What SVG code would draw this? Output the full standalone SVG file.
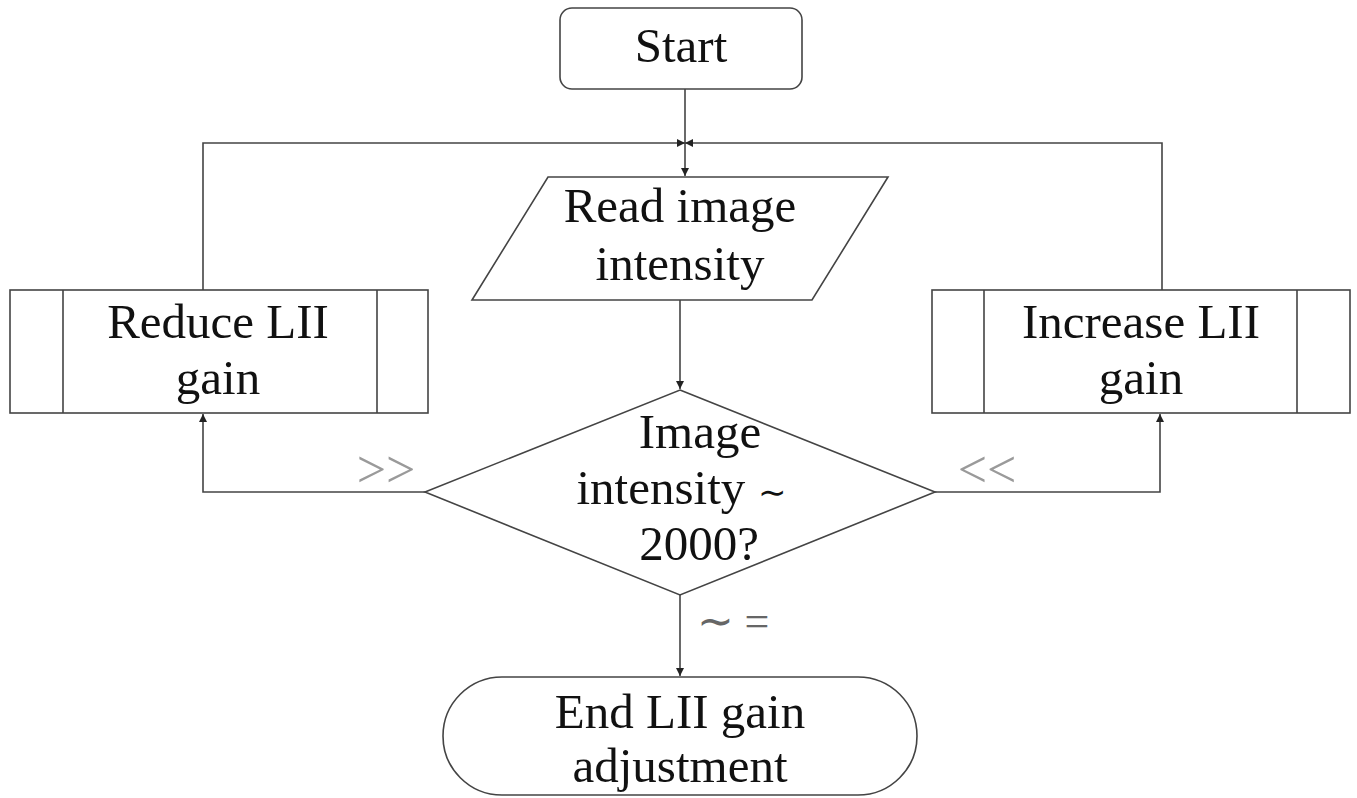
<svg xmlns="http://www.w3.org/2000/svg" width="1357" height="798" viewBox="0 0 1357 798">
<defs>
<style>
.s{fill:#fff;stroke:#444;stroke-width:1.6}
.c{fill:none;stroke:#444;stroke-width:1.6}
.t{font-family:"Liberation Serif","Times New Roman",serif;font-size:49px;fill:#111;text-anchor:middle}
.l{font-family:"Liberation Serif","Times New Roman",serif;font-size:52px;fill:#9a9a9a;text-anchor:middle}
.g{fill:#666;font-size:44px}
.sm{font-size:34px}
</style>
<marker id="a" viewBox="0 0 10 10" refX="10" refY="5" markerWidth="8" markerHeight="8" markerUnits="userSpaceOnUse" orient="auto"><path d="M0,0 L10,5 L0,10 z" fill="#222"/></marker>
</defs>
<rect width="1357" height="798" fill="#fff"/>
<g id="connectors">
<path class="c" d="M685,89 V176" marker-end="url(#a)"/>
<path class="c" d="M203,290 V143 H685" marker-end="url(#a)"/>
<path class="c" d="M1162,290 V143 H685" marker-end="url(#a)"/>
<path class="c" d="M680,300 V389" marker-end="url(#a)"/>
<path class="c" d="M425,492 H203 V414" marker-end="url(#a)"/>
<path class="c" d="M935,492 H1160 V414" marker-end="url(#a)"/>
<path class="c" d="M680,595 V676" marker-end="url(#a)"/>
<text class="l" x="386" y="487">&gt;&gt;</text>
<text class="l" x="987" y="487">&lt;&lt;</text>
<text class="l g" x="733" y="636">∼ =</text>
</g>
<g id="start">
<rect class="s" x="560" y="8" width="242" height="81" rx="12"/>
<text class="t" x="681" y="62">Start</text>
</g>
<g id="read">
<polygon class="s" points="548,177 888,177 812,300 472,300"/>
<text class="t" x="680" y="222">Read image</text>
<text class="t" x="680" y="280">intensity</text>
</g>
<g id="decision">
<polygon class="s" points="680,390 935,492 680,595 425,492"/>
<text class="t" x="700" y="448">Image</text>
<text class="t" x="681" y="504">intensity <tspan class="sm">∼</tspan></text>
<text class="t" x="699" y="560">2000?</text>
</g>
<g id="reduce">
<rect class="s" x="10" y="290" width="418" height="123"/>
<path class="c" d="M63,290 V413 M377,290 V413"/>
<text class="t" x="218" y="338">Reduce LII</text>
<text class="t" x="218" y="394">gain</text>
</g>
<g id="increase">
<rect class="s" x="932" y="290" width="418" height="123"/>
<path class="c" d="M984,290 V413 M1297,290 V413"/>
<text class="t" x="1141" y="338">Increase LII</text>
<text class="t" x="1141" y="394">gain</text>
</g>
<g id="end">
<rect class="s" x="443" y="677" width="474" height="118" rx="59"/>
<text class="t" x="680" y="728">End LII gain</text>
<text class="t" x="680" y="782">adjustment</text>
</g>
</svg>
